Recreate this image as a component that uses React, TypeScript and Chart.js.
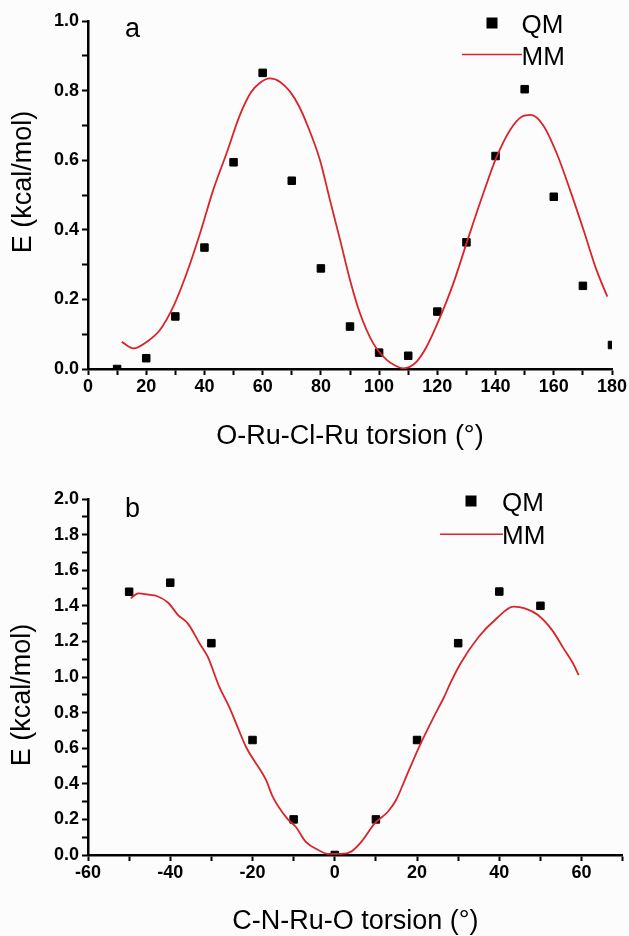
import React, { useEffect, useRef } from 'react';
import { Chart, registerables } from 'chart.js';

Chart.register(...registerables);

const FONT = '"Liberation Sans", Arial, Helvetica, sans-serif';
const RED = '#d8242a';

// ---------- Panel a: O-Ru-Cl-Ru torsion ----------
const qmA_x = [10, 20, 30, 40, 50, 60, 70, 80, 90, 100, 110, 120, 130, 140, 150, 160, 170, 180];
const qmA_y = [0.0, 0.031, 0.151, 0.349, 0.594, 0.851, 0.541, 0.289, 0.122, 0.047, 0.038, 0.165, 0.364, 0.612, 0.804, 0.495, 0.239, 0.069];

const mmA_x = [11.6, 15.6, 20.2, 24.7, 29.3, 33.9, 38.5, 43.0, 47.6, 52.2, 56.0, 59.0, 62.5, 66.0, 69.4, 72.5, 75.1, 79.7, 83.1, 86.6, 90.0, 93.4, 97.9, 102.6, 105.5, 108.3, 110.5, 112.9, 116.3, 120.3, 125.5, 130.4, 135.8, 140.4, 145.0, 149.0, 152.1, 156.4, 161.0, 165.6, 170.2, 174.7, 178.4];
const mmA_y = [0.078, 0.059, 0.078, 0.112, 0.179, 0.275, 0.39, 0.514, 0.62, 0.73, 0.795, 0.822, 0.835, 0.825, 0.797, 0.755, 0.706, 0.6, 0.486, 0.371, 0.256, 0.161, 0.075, 0.026, 0.01, 0.002, 0.006, 0.021, 0.064, 0.136, 0.246, 0.371, 0.505, 0.61, 0.687, 0.725, 0.73, 0.7, 0.62, 0.514, 0.4, 0.284, 0.208];

// ---------- Panel b: C-N-Ru-O torsion ----------
const qmB_x = [-50, -40, -30, -20, -10, 0, 10, 20, 30, 40, 50];
const qmB_y = [1.479, 1.53, 1.19, 0.646, 0.2, 0.0, 0.2, 0.646, 1.19, 1.48, 1.4];

const mmB_x = [-49.6, -47.8, -44.9, -43.3, -40.5, -38.1, -35.7, -32.9, -30.9, -28.1, -25.7, -24.0, -21.6, -17.6, -16.7, -15.1, -11.4, -9.5, -7.1, -4.0, -1.6, 1.6, 4.0, 6.5, 9.8, 12.9, 14.9, 17.7, 20.9, 24.1, 26.6, 28.1, 30.6, 35.0, 39.4, 43.4, 46.2, 49.4, 53.1, 55.5, 57.9, 59.3];
const mmB_y = [1.442, 1.47, 1.461, 1.455, 1.417, 1.348, 1.3, 1.19, 1.114, 0.946, 0.833, 0.74, 0.608, 0.459, 0.421, 0.328, 0.2, 0.159, 0.075, 0.028, 0.006, 0.006, 0.019, 0.075, 0.18, 0.243, 0.309, 0.459, 0.627, 0.777, 0.889, 0.965, 1.077, 1.226, 1.33, 1.395, 1.386, 1.348, 1.255, 1.165, 1.077, 1.01];

const yTitle = 'E (kcal/mol)';
const xTitleA = 'O-Ru-Cl-Ru torsion (°)';
const xTitleB = 'C-N-Ru-O torsion (°)';
const legendLabels = ['QM', 'MM'];

type Overlay = {
  letter: string; letterX: number; letterY: number;
  sqX: number; sqY: number; textX: number; qmBase: number; mmBase: number;
  lineX0: number; lineX1: number; lineY: number;
  yTitleX: number; yTitleY: number;
};

function overlayPlugin(o: Overlay) {
  return {
    id: 'overlay',
    afterDraw(chart: any) {
      const ctx = chart.ctx as CanvasRenderingContext2D;
      ctx.save();
      ctx.fillStyle = '#000';
      ctx.textAlign = 'left';
      ctx.textBaseline = 'alphabetic';
      ctx.font = `27px ${FONT}`;
      ctx.fillText(o.letter, o.letterX, o.letterY);
      // legend
      ctx.fillRect(o.sqX - 5.5, o.sqY - 5.5, 11, 11);
      ctx.strokeStyle = RED;
      ctx.lineWidth = 1.6;
      ctx.beginPath();
      ctx.moveTo(o.lineX0, o.lineY);
      ctx.lineTo(o.lineX1, o.lineY);
      ctx.stroke();
      ctx.font = `26px ${FONT}`;
      ctx.fillText(legendLabels[0], o.textX, o.qmBase);
      ctx.fillText(legendLabels[1], o.textX, o.mmBase);
      // y title
      ctx.translate(o.yTitleX, o.yTitleY);
      ctx.rotate(-Math.PI / 2);
      ctx.textAlign = 'center';
      ctx.textBaseline = 'middle';
      ctx.font = `27px ${FONT}`;
      ctx.fillText(yTitle, 0, 0);
      ctx.restore();
    },
  };
}

function makeConfig(p: {
  qx: number[]; qy: number[]; mx: number[]; my: number[];
  xMin: number; xMax: number; yMax: number; xTitle: string;
  padTop: number; padRight: number; xHeight: number; titlePadBottom: number;
  overlay: Overlay;
}): any {
  const tickFont = { family: FONT, size: 18, weight: 'bold' };
  return {
    type: 'scatter',
    data: {
      datasets: [
        {
          label: 'MM',
          data: p.mx.map((x, i) => ({ x, y: p.my[i] })),
          showLine: true,
          borderColor: RED,
          borderWidth: 1.8,
          pointRadius: 0,
          cubicInterpolationMode: 'monotone',
          fill: false,
        },
        {
          label: 'QM',
          data: p.qx.map((x, i) => ({ x, y: p.qy[i] })),
          showLine: false,
          pointStyle: 'rect',
          pointRadius: 5.3,
          backgroundColor: '#000',
          borderColor: '#000',
          borderWidth: 1,
          clip: 0,
        },
      ],
    },
    options: {
      animation: false,
      responsive: false,
      devicePixelRatio: 1,
      layout: { padding: { top: p.padTop, right: p.padRight, left: 0, bottom: 0 } },
      plugins: { legend: { display: false }, tooltip: { enabled: false } },
      scales: {
        x: {
          type: 'linear',
          min: p.xMin,
          max: p.xMax,
          afterFit: (s: any) => { s.height = p.xHeight; },
          border: { display: true, color: '#000', width: 2.5 },
          grid: { drawOnChartArea: false, drawTicks: true, tickLength: 6, tickWidth: 2, tickColor: '#000' },
          ticks: {
            stepSize: 10, autoSkip: false, maxRotation: 0, color: '#000', font: tickFont, padding: 1,
            callback: (v: number) => (Math.round(v) % 20 === 0 ? String(Math.round(v)) : ''),
          },
          title: {
            display: true, text: p.xTitle, color: '#000',
            font: { family: FONT, size: 27, lineHeight: 1.1 },
            padding: { top: 0, bottom: p.titlePadBottom },
          },
        },
        y: {
          type: 'linear',
          min: 0,
          max: p.yMax,
          afterFit: (s: any) => { s.width = 88; },
          border: { display: true, color: '#000', width: 2.5 },
          grid: { drawOnChartArea: false, drawTicks: true, tickLength: 6, tickWidth: 2, tickColor: '#000' },
          ticks: {
            stepSize: 0.1, autoSkip: false, color: '#000', font: tickFont, padding: 3,
            callback: (v: number) => {
              const r = Math.round(v * 10);
              return r % 2 === 0 ? (r / 10).toFixed(1) : '';
            },
          },
        },
      },
    },
    plugins: [overlayPlugin(p.overlay)],
  };
}

function Panel(props: { width: number; height: number; top: number; config: any }) {
  const ref = useRef<HTMLCanvasElement | null>(null);
  useEffect(() => {
    if (!ref.current) return;
    const chart = new Chart(ref.current, props.config);
    return () => chart.destroy();
  }, []);
  return (
    <canvas
      ref={ref}
      width={props.width}
      height={props.height}
      style={{ position: 'absolute', left: 0, top: props.top, width: props.width, height: props.height }}
    />
  );
}

export default function App() {
  const cfgA = makeConfig({
    qx: qmA_x, qy: qmA_y, mx: mmA_x, my: mmA_y,
    xMin: 0, xMax: 180, yMax: 1.0, xTitle: xTitleA,
    padTop: 21, padRight: 17, xHeight: 91, titlePadBottom: 9,
    overlay: {
      letter: 'a', letterX: 125, letterY: 37,
      sqX: 492, sqY: 23, textX: 521.5, qmBase: 33, mmBase: 65,
      lineX0: 462, lineX1: 522, lineY: 54.5,
      yTitleX: 24, yTitleY: 182,
    },
  });
  const cfgB = makeConfig({
    qx: qmB_x, qy: qmB_y, mx: mmB_x, my: mmB_y,
    xMin: -60, xMax: 70, yMax: 2.0, xTitle: xTitleB,
    padTop: 39, padRight: 2, xHeight: 81, titlePadBottom: 0,
    overlay: {
      letter: 'b', letterX: 125, letterY: 57,
      sqX: 471, sqY: 41, textX: 502, qmBase: 50.5, mmBase: 84,
      lineX0: 440, lineX1: 503, lineY: 74.3,
      yTitleX: 23, yTitleY: 235,
    },
  });
  return (
    <div style={{ position: 'absolute', left: 0, top: 0, width: 629, height: 936, background: '#fcfcfc', overflow: 'hidden' }}>
      <Panel width={629} height={460} top={0} config={cfgA} />
      <Panel width={629} height={476} top={460} config={cfgB} />
    </div>
  );
}
